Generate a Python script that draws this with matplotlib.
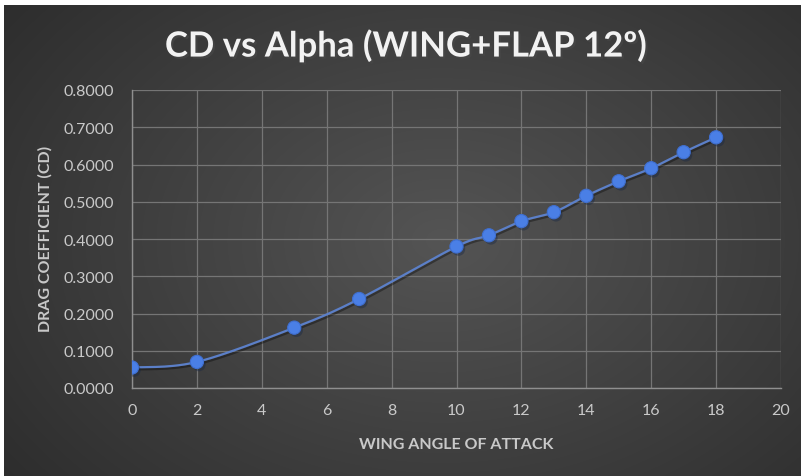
import numpy as np
import matplotlib
matplotlib.use("Agg")
import matplotlib.pyplot as plt
import matplotlib.patheffects as pe

# Drag coefficient vs. angle of attack, wing + 12 deg flap
alpha = [0, 2, 5, 7, 10, 11, 12, 13, 14, 15, 16, 17, 18]
cd = [0.055, 0.070, 0.162, 0.239, 0.380, 0.410, 0.448, 0.472, 0.516, 0.555, 0.590, 0.633, 0.673]

x_ticks = list(range(0, 21, 2))
y_ticks = [0.0, 0.1, 0.2, 0.3, 0.4, 0.5, 0.6, 0.7, 0.8]

title = "CD vs Alpha (WING+FLAP 12º)"
x_label = "WING ANGLE OF ATTACK"
y_label = "DRAG COEFFICIENT (CD)"

FONT = "Lato"
W, H, DPI = 801, 477, 100


def smooth_curve(xs, ys, n=40):
    """Bezier smoothing through every point (Catmull-Rom control points)."""
    xs = np.asarray(xs, float)
    ys = np.asarray(ys, float)
    px, py = [], []
    for i in range(len(xs) - 1):
        x0, y0 = (xs[i - 1], ys[i - 1]) if i > 0 else (xs[i], ys[i])
        x3, y3 = (xs[i + 2], ys[i + 2]) if i + 2 < len(xs) else (xs[i + 1], ys[i + 1])
        x1, y1 = xs[i], ys[i]
        x2, y2 = xs[i + 1], ys[i + 1]
        c1 = (x1 + (x2 - x0) / 6, y1 + (y2 - y0) / 6)
        c2 = (x2 - (x3 - x1) / 6, y2 - (y3 - y1) / 6)
        t = np.linspace(0, 1, n)
        bx = (1 - t) ** 3 * x1 + 3 * (1 - t) ** 2 * t * c1[0] + 3 * (1 - t) * t ** 2 * c2[0] + t ** 3 * x2
        by = (1 - t) ** 3 * y1 + 3 * (1 - t) ** 2 * t * c1[1] + 3 * (1 - t) * t ** 2 * c2[1] + t ** 3 * y2
        px.extend(bx)
        py.extend(by)
    return np.array(px), np.array(py)


fig = plt.figure(figsize=(W / DPI, H / DPI), dpi=DPI, facecolor="white")

# Dark radial-gradient chart background
bg = fig.add_axes([4 / W, 0, 1 - 4 / W, 1 - 6 / H])
bg.set_axis_off()
gy, gx = np.mgrid[0:1:300j, 0:1:500j]
r = np.sqrt(((gx - 0.55) / 0.75) ** 2 + ((gy - 0.5) / 0.9) ** 2)
c_in, c_out = np.array([0.33, 0.33, 0.33]), np.array([0.165, 0.165, 0.165])
k = np.clip(r, 0, 1)[..., None]
img = c_in * (1 - k) + c_out * k
bg.imshow(img, extent=[0, 1, 0, 1], aspect="auto", interpolation="bilinear")
bg.set_xlim(0, 1)
bg.set_ylim(0, 1)

ax = fig.add_axes([132 / W, 1 - 389 / H, (781 - 132) / W, (389 - 91) / H])
ax.patch.set_alpha(0)
ax.set_xlim(0, 20)
ax.set_ylim(0, 0.8)
ax.set_xticks(x_ticks)
ax.set_yticks(y_ticks)
ax.set_yticklabels([f"{v:.4f}" for v in y_ticks])
ax.grid(True, color="#757575", linewidth=0.9)
ax.set_axisbelow(True)
for s in ["top", "right"]:
    ax.spines[s].set_visible(False)
for s in ["left", "bottom"]:
    ax.spines[s].set_color("#8f8f8f")
    ax.spines[s].set_linewidth(1.0)
ax.tick_params(axis="y", length=0, pad=13, labelcolor="#c9c9c9", labelsize=11.5)
ax.tick_params(axis="x", length=0, pad=11, labelcolor="#c9c9c9", labelsize=11.5)
for lab in ax.get_xticklabels() + ax.get_yticklabels():
    lab.set_fontfamily(FONT)

sx, sy = smooth_curve(alpha, cd)
ax.plot(sx, sy, color="#5b7fc8", linewidth=1.6, zorder=3,
        path_effects=[pe.SimpleLineShadow(offset=(1, -1.5), alpha=0.35), pe.Normal()])
ax.plot(alpha, cd, linestyle="none", marker="o", markersize=9.5,
        markerfacecolor="#4a7fe6", markeredgecolor="#3f6fd0", markeredgewidth=0.8, zorder=4,
        path_effects=[pe.SimplePatchShadow(offset=(1.5, -2), alpha=0.4), pe.Normal()])

ax.set_xlabel(x_label, fontfamily=FONT, fontweight="bold", fontsize=11.5, color="#c9c9c9")
ax.xaxis.set_label_coords(0.4995, -0.165)
ax.set_ylabel(y_label, fontfamily=FONT, fontweight="bold", fontsize=11.5, color="#c9c9c9")
ax.yaxis.set_label_coords(-0.123, 0.505)

fig.text(406 / W, 1 - 47 / H, title, ha="center", va="center", fontfamily=FONT,
         fontweight="bold", fontsize=25, color="#f2f2f2",
         path_effects=[pe.withSimplePatchShadow(offset=(1.5, -1.5), alpha=0.6)])

fig.savefig("out.png", dpi=DPI)
